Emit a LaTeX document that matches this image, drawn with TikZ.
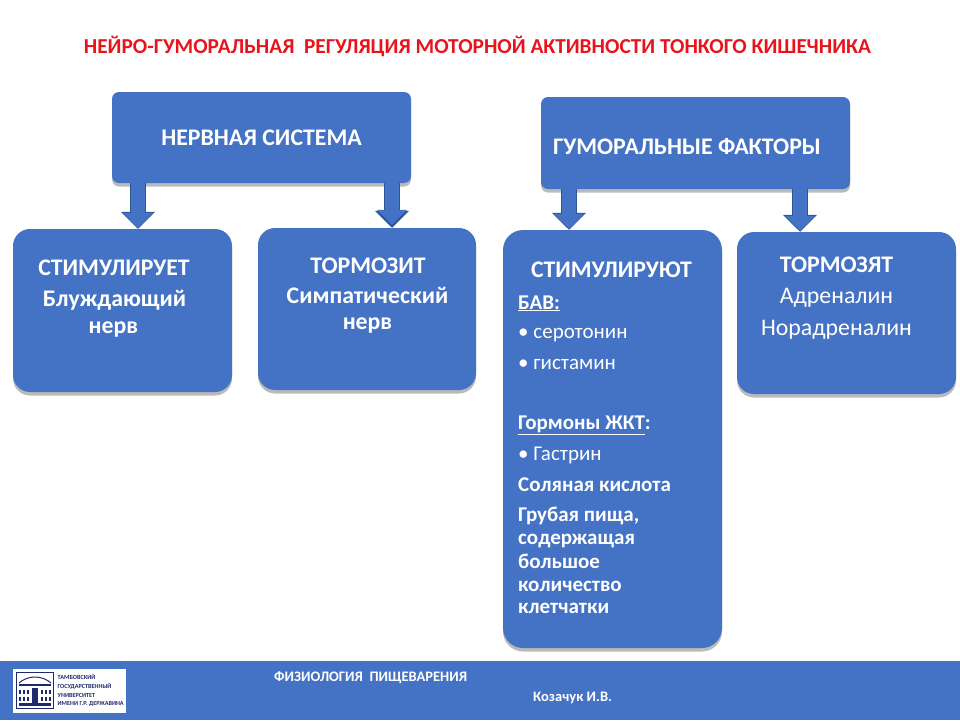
\documentclass[tikz,border=0pt]{standalone}
\usepackage{fontspec}
\setmainfont{Carlito}
\usetikzlibrary{arrows.meta,shadows}

\definecolor{boxblue}{HTML}{4472C4}
\definecolor{boxedge}{HTML}{2F5597}
\definecolor{titlered}{HTML}{E8141C}
\definecolor{logonavy}{HTML}{1F2A6E}

\tikzset{
    x=1pt,y=-1pt,
    blockbox/.style={fill=boxblue,inner sep=0pt,text=white,font=\fontsize{23.8}{28}\selectfont\bfseries,
        drop shadow={shadow xshift=0pt,shadow yshift=-3.5pt,fill=black!60,opacity=0.45}},
    headbox/.style={blockbox,rounded corners=7pt},
    lowbox/.style={blockbox,rounded corners=17pt},
    bigarrow/.style={draw=boxblue,line width=13.5pt,shorten >=1pt,-{Triangle[length=15pt,width=29pt]},
        preaction={draw=boxedge,line width=16pt,shorten >=0pt,-{Triangle[length=17pt,width=33pt]}}},
    headtxt/.style={inner sep=0pt,anchor=base,text=white,font=\fontsize{23.8}{28}\selectfont\bfseries},
    plaintxt/.style={inner sep=0pt,anchor=base,text=white,font=\fontsize{23.8}{28}\selectfont},
    listbold/.style={inner sep=0pt,anchor=base west,text=white,font=\fontsize{21}{25}\selectfont\bfseries},
    listtxt/.style={inner sep=0pt,anchor=base west,text=white,font=\fontsize{21}{25}\selectfont},
    foottxt/.style={inner sep=0pt,anchor=base west,text=white,font=\fontsize{14.5}{18}\selectfont\bfseries},
    logotxt/.style={inner sep=0pt,anchor=west,text=logonavy,font=\fontsize{6.2}{8}\selectfont\bfseries}
}

\begin{document}
\begin{tikzpicture}
        \useasboundingbox (0,0) rectangle (960,720);

        % Paso 1: title
        \node[inner sep=0pt,anchor=base,text=titlered,font=\fontsize{21.3}{25}\selectfont\bfseries] (titulo) at (477.5,53)
            {НЕЙРО-ГУМОРАЛЬНАЯ\ \ РЕГУЛЯЦИЯ МОТОРНОЙ АКТИВНОСТИ ТОНКОГО КИШЕЧНИКА};

        % Paso 2: top boxes
        \node[headbox,minimum width=299pt,minimum height=91pt] (nervsys) at (261.5,137.5) {НЕРВНАЯ СИСТЕМА};
        \node[headbox,minimum width=309pt,minimum height=92pt] (humoral) at (695.5,143) {};
        \node[headtxt] (humoraltxt) at (687,154) {ГУМОРАЛЬНЫЕ ФАКТОРЫ};

        % Paso 3: lower boxes
        \node[lowbox,minimum width=219pt,minimum height=163pt] (stimul) at (122.5,310.5) {};
        \node[lowbox,minimum width=218pt,minimum height=162pt] (tormoz) at (367,309) {};
        \node[lowbox,minimum width=219pt,minimum height=418pt,rounded corners=20pt] (stimuls) at (612.5,439) {};
        \node[lowbox,minimum width=219pt,minimum height=162pt] (tormozs) at (846.5,313) {};

        % Paso 4: arrows between boxes
        \coordinate (arrowa) at (138,0);
        \coordinate (arrowb) at (392,0);
        \coordinate (arrowc) at (569,0);
        \coordinate (arrowd) at (800,0);
        \draw[bigarrow] (arrowa |- nervsys.south) -- (arrowa |- stimul.north);
        \draw[bigarrow,shorten >=3pt] (arrowb |- nervsys.south) -- (arrowb |- tormoz.north);
        \draw[bigarrow] (arrowc |- humoral.south) -- (arrowc |- stimuls.north);
        \draw[bigarrow] (arrowd |- humoral.south) -- (arrowd |- tormozs.north);

        % Paso 5: text of the left pair
        \node[headtxt] (stimulhead) at (114,275) {СТИМУЛИРУЕТ};
        \node[headtxt] (stimulone) at (114.5,306) {Блуждающий};
        \node[headtxt] (stimultwo) at (113.5,333) {нерв};
        \node[headtxt] (tormozhead) at (368,273) {ТОРМОЗИТ};
        \node[headtxt] (tormozone) at (367.5,303) {Симпатический};
        \node[headtxt] (tormoztwo) at (367.5,329) {нерв};

        % Paso 6: text of the right pair
        \node[headtxt] (stimulshead) at (611.5,277) {СТИМУЛИРУЮТ};
        \node[listbold] (bav) at (518,309) {\underline{БАВ:}};
        \node[listtxt] (bavone) at (518,338) {• серотонин};
        \node[listtxt] (bavtwo) at (518,369) {• гистамин};
        \node[listbold] (gkt) at (518,429) {\underline{Гормоны ЖКТ}:};
        \node[listtxt] (gktone) at (518,460) {• Гастрин};
        \node[listbold] (acid) at (518,491) {Соляная кислота};
        \node[listbold] (foodone) at (518,521) {Грубая пища,};
        \node[listbold] (foodtwo) at (518,544) {содержащая};
        \node[listbold] (foodthree) at (518,568) {большое};
        \node[listbold] (foodfour) at (518,591) {количество};
        \node[listbold] (foodfive) at (518,613) {клетчатки};
        \node[headtxt] (tormozshead) at (836.5,272) {ТОРМОЗЯТ};
        \node[plaintxt] (tormozsone) at (836.5,303) {Адреналин};
        \node[plaintxt] (tormozstwo) at (836.5,335) {Норадреналин};

        % Paso 7: footer band
        \fill[boxblue] (0,661) rectangle (960,720);
        \node[foottxt] (footone) at (274,681.5) {ФИЗИОЛОГИЯ\ \ ПИЩЕВАРЕНИЯ};
        \node[foottxt] (foottwo) at (533,701.5) {Козачук И.В.};

        % Paso 8: logo
        \fill[white] (13,669) rectangle (126,713);
        \draw[logonavy,line width=1.3pt] (16.5,672.5) rectangle (53.5,708.5);
        \draw[logonavy,line width=1pt] (19,683) .. controls (28,675) and (42,675) .. (51,683);
        \fill[logonavy] (19,684) rectangle (51,686);
        \fill[logonavy] (32,688) rectangle (38,703);
        \foreach \px in {20,24,28,42,46,50}{
            \fill[logonavy] (\px-1,690) rectangle (\px+1,694);
            \fill[logonavy] (\px-1,697) rectangle (\px+1,701);
        }
        \fill[logonavy] (19,703) rectangle (51,706);
        \node[logotxt] (logoone) at (57.5,677) {ТАМБОВСКИЙ};
        \node[logotxt] (logotwo) at (57.5,686) {ГОСУДАРСТВЕННЫЙ};
        \node[logotxt] (logothree) at (57.5,695) {УНИВЕРСИТЕТ};
        \node[logotxt] (logofour) at (57.5,704) {ИМЕНИ Г.Р. ДЕРЖАВИНА};
\end{tikzpicture}
\end{document}
